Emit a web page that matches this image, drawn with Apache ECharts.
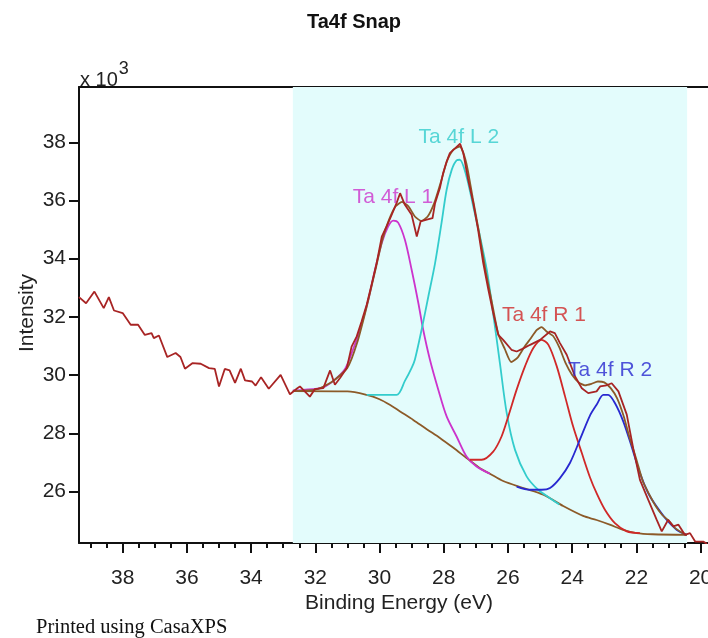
<!DOCTYPE html>
<html>
<head>
<meta charset="utf-8">
<script src="https://cdn.jsdelivr.net/npm/echarts@6/dist/echarts.min.js"></script>
<style>
html,body{margin:0;padding:0;background:#fff;}
#c{width:708px;height:638px;}
</style>
</head>
<body>
<div id="c"></div>
<script>
// ---- data (Binding energy eV, Intensity x10^3) ----
const rawE = [39.36,39.14,38.88,38.59,38.43,38.27,38.00,37.75,37.52,37.31,37.10,37.03,36.87,36.61,36.35,36.20,36.06,35.83,35.57,35.31,35.13,35.00,34.82,34.67,34.50,34.32,34.19,33.97,33.86,33.69,33.45,33.08,32.79,32.56,32.48,32.17,32.01,31.75,31.54,31.39,31.23,31.02,30.87,30.71,30.56,30.40,30.25,30.09,29.93,29.78,29.62,29.47,29.36,29.21,29.00,28.84,28.72,28.53,28.35,28.27,28.12,28.02,27.91,27.81,27.70,27.49,27.39,27.24,27.08,26.93,26.77,26.61,26.46,26.30,26.15,25.89,25.73,25.55,25.31,25.00,24.69,24.54,24.38,24.17,23.91,23.70,23.50,23.24,23.13,22.93,22.77,22.56,22.30,22.10,21.89,21.63,21.37,21.21,21.01,20.85,20.69,20.49,20.33,20.17,19.92,19.80];
const rawI = [32.68,32.47,32.87,32.30,32.68,32.22,32.13,31.73,31.73,31.38,31.44,31.27,31.36,30.62,30.76,30.62,30.22,30.41,30.39,30.24,30.21,29.61,30.21,30.16,29.73,30.22,29.82,29.78,29.64,29.93,29.53,30.01,29.34,29.55,29.61,29.26,29.52,29.55,30.16,29.67,29.90,30.24,30.98,31.33,31.84,32.42,33.10,33.85,34.76,35.11,35.51,35.91,36.25,35.85,35.51,34.76,35.28,35.34,35.39,35.91,36.43,36.94,37.34,37.63,37.74,37.95,37.63,36.71,35.91,34.99,33.85,32.93,32.13,31.38,31.21,30.87,30.81,30.90,31.04,31.21,31.50,31.44,31.10,30.70,29.95,29.55,29.38,29.44,29.61,29.65,29.72,29.44,28.64,27.49,26.40,25.71,25.03,24.63,25.03,24.80,24.86,24.51,24.57,24.28,24.28,24.20];

const envE = [32.70,32.00,31.50,31.00,30.70,30.40,30.10,29.90,29.70,29.50,29.30,29.10,28.90,28.70,28.50,28.30,28.10,27.90,27.70,27.50,27.30,27.10,26.90,26.70,26.50,26.30,26.10,25.90,25.70,25.50,25.30,25.10,24.95,24.80,24.60,24.40,24.20,24.00,23.80,23.60,23.40,23.20,23.00,22.80,22.60,22.40,22.20,22.00,21.80,21.60,21.40,21.20,21.00,20.80,20.60,20.43];
const envI = [29.45,29.50,29.75,30.25,31.10,32.35,33.75,34.70,35.35,35.80,35.95,35.80,35.45,35.30,35.45,35.90,36.60,37.35,37.75,37.85,37.30,36.10,34.90,33.60,32.50,31.40,30.90,30.45,30.60,30.95,31.25,31.55,31.65,31.50,31.35,30.95,30.40,30.00,29.75,29.65,29.70,29.78,29.75,29.55,29.20,28.60,27.80,27.10,26.35,25.90,25.50,25.20,25.00,24.75,24.60,24.50];

const bgE = [32.70,31.00,30.40,30.00,29.68,29.36,28.95,28.53,28.12,27.70,27.29,26.87,26.56,26.15,25.52,24.90,24.28,23.66,23.24,22.83,22.41,22.00,21.50,20.43];
const bgI = [29.45,29.44,29.32,29.17,28.98,28.75,28.46,28.14,27.84,27.50,27.15,26.80,26.61,26.36,26.12,25.89,25.50,25.16,25.02,24.86,24.68,24.57,24.53,24.51];

const l1E = [32.70,32.38,31.75,31.44,31.08,30.87,30.61,30.35,30.14,29.93,29.73,29.57,29.42,29.21,29.00,28.79,28.64,28.43,28.17,27.91,27.60,27.29,26.98,26.56];
const l1I = [29.47,29.49,29.58,29.80,30.20,30.75,31.56,32.59,33.62,34.54,35.11,35.31,35.24,34.65,33.62,32.47,31.56,30.53,29.50,28.58,27.89,27.20,26.86,26.61];

const l2E = [30.40,29.47,29.21,29.00,28.90,28.69,28.48,28.27,28.07,27.91,27.75,27.60,27.50,27.29,27.08,26.87,26.66,26.46,26.25,26.04,25.78,25.42,25.06,24.69,24.40];
const l2I = [29.32,29.32,29.80,30.25,30.53,31.56,32.70,33.85,35.22,36.37,37.06,37.38,37.40,36.82,35.79,34.76,33.62,32.10,30.40,28.70,27.43,26.52,26.06,25.77,25.55];

const r1E = [27.19,26.82,26.46,26.20,25.99,25.73,25.47,25.21,24.95,24.74,24.48,24.22,23.97,23.70,23.45,23.24,22.98,22.67,22.30,21.89];
const r1I = [27.09,27.09,27.37,27.89,28.58,29.50,30.30,30.93,31.21,31.04,30.30,29.26,28.23,27.32,26.50,25.94,25.37,24.91,24.63,24.57];

const r2E = [25.73,25.31,24.95,24.69,24.38,24.07,23.76,23.45,23.24,23.03,22.88,22.67,22.41,22.15,21.89,21.63,21.37,21.06,20.74,20.43];
const r2I = [26.17,26.06,26.06,26.12,26.46,26.98,27.78,28.60,28.98,29.32,29.32,29.04,28.41,27.55,26.63,25.94,25.48,25.03,24.68,24.51];

const peakNames = ['Ta 4f L 1','Ta 4f L 2','Ta 4f R 1','Ta 4f R 2'];
const peakLabelE = [29.58,27.53,24.88,22.82];
const peakLabelI = [36.13,38.19,32.07,30.18];

const regionE = [32.70,20.42];
const xTicks = [38,36,34,32,30,28,26,24,22,20];
const yTicks = [26,28,30,32,34,36,38];
const xMinorTicks = [];
for (let v = 19.5; v <= 39.3; v += 0.5) { if (Math.abs(v/2 - Math.round(v/2)) > 1e-6) xMinorTicks.push(+v.toFixed(1)); }

// ---- styles ----
const FONT = 'Liberation Sans, Arial, sans-serif';
const C_RAW = '#a82424', C_BROWN = '#8c5a28';
const C_L1 = '#cc33cc', C_L2 = '#33cccc', C_R1 = '#d02828', C_R2 = '#2828d0';
const labelColors = [C_L1, C_L2, C_R1, C_R2];

const zip = (a, b) => a.map((e, i) => [e, b[i]]);
const X_MIN = 19.77, X_MAX = 39.36, Y_MIN = 24.23, Y_MAX = 39.9;

function line(name, E, I, color, z, smooth) {
  return {
    name, type: 'line', data: zip(E, I), showSymbol: false, symbol: 'none',
    smooth: smooth || false, z: z, lineStyle: { color, width: 1.8 }, animation: false
  };
}

const chart = echarts.init(document.getElementById('c'), null, { renderer: 'canvas' });

const baseX = { type: 'value', min: X_MIN, max: X_MAX, inverse: true, splitLine: { show: false } };

chart.setOption({
  animation: false,
  backgroundColor: '#ffffff',
  grid: { left: 79, right: 0, top: 87, bottom: 95, containLabel: false, outerBoundsMode: 'none' },
  xAxis: [
    Object.assign({}, baseX, {
      position: 'bottom',
      axisLine: { show: true, onZero: false, lineStyle: { color: '#111', width: 2 } },
      axisTick: { show: true, length: 10, customValues: xTicks, lineStyle: { color: '#111', width: 2 } },
      axisLabel: { show: true, customValues: xTicks, margin: 25, fontSize: 21, fontFamily: FONT, color: '#222' }
    }),
    Object.assign({}, baseX, {
      position: 'bottom',
      axisLine: { show: false, onZero: false },
      axisTick: { show: true, length: 5, customValues: xMinorTicks, lineStyle: { color: '#111', width: 2 } },
      axisLabel: { show: false }
    }),
    Object.assign({}, baseX, {
      position: 'top',
      axisLine: { show: true, onZero: false, lineStyle: { color: '#111', width: 2 } },
      axisTick: { show: false },
      axisLabel: { show: false }
    })
  ],
  yAxis: {
    type: 'value', min: Y_MIN, max: Y_MAX,
    splitLine: { show: false },
    axisLine: { show: true, onZero: false, lineStyle: { color: '#111', width: 2 } },
    axisTick: { show: true, length: 10, customValues: yTicks, lineStyle: { color: '#111', width: 2 } },
    axisLabel: { show: true, customValues: yTicks, margin: 13, fontSize: 21, fontFamily: FONT, color: '#222' }
  },
  graphic: [
    { type: 'text', left: 'center', top: 12, style: { text: 'Ta4f Snap', x: 0, fontSize: 20, fontWeight: 'bold', fontFamily: FONT, fill: '#111' } },
    { type: 'text', x: 80, y: 60, style: { text: '{a|x 10}{b|3}', rich: { a: { fontSize: 20, fontFamily: FONT, fill: '#222', verticalAlign: 'bottom' }, b: { fontSize: 18, fontFamily: FONT, fill: '#222', verticalAlign: 'top', padding: [0, 0, 12, 1] } } } },
    { type: 'text', x: 27, y: 313, rotation: Math.PI / 2, style: { text: 'Intensity', align: 'center', verticalAlign: 'middle', fontSize: 21, fontFamily: FONT, fill: '#222' } },
    { type: 'text', x: 399, y: 603, style: { text: 'Binding Energy (eV)', align: 'center', verticalAlign: 'middle', fontSize: 21, fontFamily: FONT, fill: '#222' } },
    { type: 'text', x: 36, y: 628, style: { text: 'Printed using CasaXPS', align: 'left', verticalAlign: 'middle', fontSize: 20.5, fontFamily: 'Liberation Serif, Times New Roman, serif', fill: '#111' } }
  ],
  series: [
    {
      name: 'region', type: 'line', data: [], z: 1,
      markArea: { silent: true, itemStyle: { color: '#e3fcfc' }, data: [[{ xAxis: regionE[0] }, { xAxis: regionE[1] }]] }
    },
    line('Background', bgE, bgI, C_BROWN, 3, 0.3),
    line('Ta 4f L 1', l1E, l1I, C_L1, 4, 0.3),
    line('Ta 4f L 2', l2E, l2I, C_L2, 4, 0.3),
    line('Ta 4f R 1', r1E, r1I, C_R1, 4, 0.3),
    line('Ta 4f R 2', r2E, r2I, C_R2, 4, 0.3),
    line('Envelope', envE, envI, C_BROWN, 5, 0.2),
    line('Raw', rawE, rawI, C_RAW, 6, false),
    {
      name: 'labels', type: 'scatter', z: 8, symbolSize: 0, silent: true,
      itemStyle: { color: 'rgba(0,0,0,0)' },
      label: { show: true, position: 'inside', formatter: '{b}', fontSize: 21, fontFamily: FONT },
      data: peakNames.map((n, i) => ({
        name: n, value: [peakLabelE[i], peakLabelI[i]],
        label: { color: labelColors[i] }
      }))
    }
  ]
});
</script>
</body>
</html>
